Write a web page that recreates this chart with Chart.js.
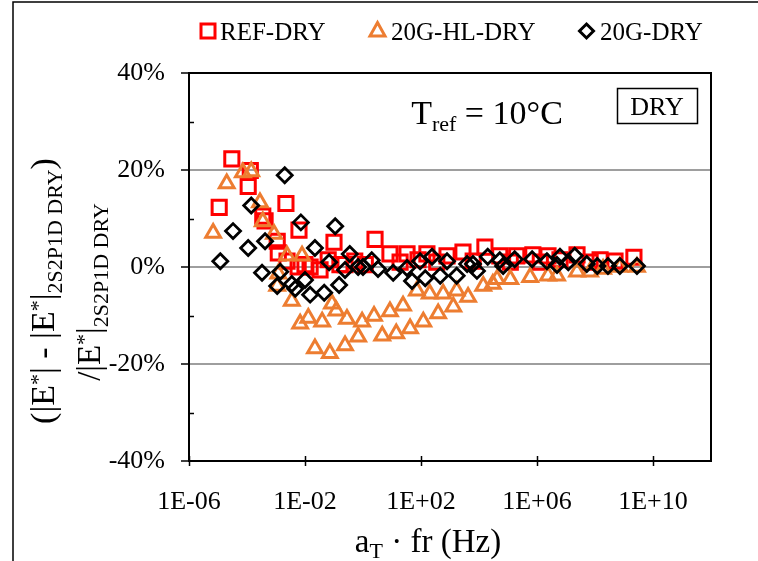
<!DOCTYPE html>
<html>
<head>
<meta charset="utf-8">
<script src="https://cdn.jsdelivr.net/npm/chart.js@4.4.0/dist/chart.umd.min.js"></script>
<style>
  html, body { margin: 0; padding: 0; background: #fff; }
  #wrap { width: 758px; height: 561px; position: relative; }
</style>
</head>
<body>
<div id="wrap"><canvas id="grafico" width="758" height="561"></canvas></div>
<script>
// aT·fr (Hz) y desviacion (%) respecto al modelo 2S2P1D
const refDryFreq = [1.1e-5, 3.0e-5, 1.1e-4, 1.3e-4, 3.5e-4, 4.2e-4, 1.1e-3, 1.2e-3, 2.2e-3, 2.4e-3, 5.8e-3, 6.2e-3, 1.0e-2, 1.5e-2, 3.3e-2, 6.3e-2, 0.10, 0.16, 0.24, 0.52, 1.2, 2.6, 8.5, 19, 33, 79, 160, 350, 790, 2800, 6300, 1.6e4, 5.2e4, 1.2e5, 2.0e5, 7.2e5, 1.3e6, 2.4e6, 6.2e6, 2.4e7, 6.8e7, 1.5e8, 4.9e8, 2.2e9];
const refDryDev = [12.3, 22.3, 16.6, 19.9, 10.5, 9.5, 5.3, 2.9, 13.1, 1.2, 0.0, 7.6, 0.5, 0.0, -0.6, 1.5, 5.1, 0.5, 0.5, 1.2, 0.5, 5.7, 2.7, 1.0, 2.7, 1.5, 2.7, 1.0, 2.3, 3.1, 1.2, 4.1, 2.3, 1.0, 2.3, 2.5, 1.0, 2.3, 1.5, 2.5, 1.0, 1.5, 1.2, 2.0];

const hlDryFreq = [6.8e-6, 2.0e-5, 7.2e-5, 1.4e-4, 2.8e-4, 3.5e-4, 8.5e-4, 1.1e-3, 1.2e-3, 2.4e-3, 3.5e-3, 6.8e-3, 7.9e-3, 1.3e-2, 2.2e-2, 3.9e-2, 7.2e-2, 8.5e-2, 0.12, 0.24, 0.28, 0.68, 0.93, 2.4, 4.6, 8.5, 14, 24, 42, 72, 120, 200, 390, 580, 1300, 1700, 4200, 1.4e4, 3.0e4, 4.2e4, 1.2e5, 5.8e5, 2.4e6, 4.9e6, 2.4e7, 6.8e7, 1.9e8, 7.2e8, 2.8e9];
const hlDryDev = [7.0, 17.2, 19.5, 19.7, 13.3, 9.4, 6.8, -3.9, -1.4, 2.3, -7.0, -11.7, 2.3, -10.5, -16.8, -11.3, -17.8, -7.6, -9.0, -16.2, -10.7, -14.4, -11.3, -10.1, -14.2, -9.2, -13.7, -8.0, -12.7, -4.9, -11.3, -5.5, -9.6, -5.5, -8.2, -4.9, -6.2, -3.9, -3.5, -2.5, -2.5, -2.1, -1.8, -1.8, -1.0, -1.0, -0.4, 0.0, 0.0];

const gDryFreq = [1.2e-5, 3.3e-5, 1.1e-4, 1.4e-4, 3.3e-4, 4.2e-4, 1.1e-3, 1.4e-3, 2.0e-3, 3.5e-3, 4.6e-3, 7.2e-3, 1.0e-2, 1.5e-2, 2.2e-2, 4.6e-2, 6.8e-2, 0.11, 0.15, 0.24, 0.35, 0.68, 1.0, 2.0, 3.3, 11, 33, 49, 93, 140, 240, 460, 790, 1700, 3900, 6200, 8500, 2.0e4, 5.2e4, 6.8e4, 1.7e5, 6.8e5, 2.2e6, 4.9e6, 6.2e6, 1.2e7, 2.0e7, 5.2e7, 1.2e8, 2.8e8, 7.2e8, 2.8e9];
const gDryDev = [1.2, 7.4, 3.9, 12.7, -1.2, 5.3, -3.9, -1.0, 18.9, -3.5, -4.5, 9.2, -2.7, -5.7, 3.9, -5.3, 1.0, 8.4, -3.7, -0.6, 2.7, 0.0, 0.0, 1.4, -0.4, -1.2, -0.2, -2.9, 1.2, -2.3, 2.1, -1.8, 1.2, -1.8, 0.6, 0.6, -0.8, 2.1, 1.4, 0.2, 1.6, 1.6, 1.2, 0.4, 2.1, 1.0, 2.3, 0.6, 0.2, 0.2, 0.2, 0.2];

const serieNames = ["REF-DRY", "20G-HL-DRY", "20G-DRY"];
const xTickValues = [1e-6, 1e-2, 1e2, 1e6, 1e10];
const xTickLabels = ["1E-06", "1E-02", "1E+02", "1E+06", "1E+10"];
const yTickValues = [-40, -20, 0, 20, 40];
const yTickLabels = ["-40%", "-20%", "0%", "20%", "40%"];
const yMinorValues = [-30, -10, 10, 30];

const serif = "'Liberation Serif', 'Times New Roman', serif";
const rojo = "#FF0000";
const naranja = "#ED7D31";
const negro = "#000000";

function puntos(xs, ys) {
  return xs.map(function (x, i) { return { x: x, y: ys[i] }; });
}

// texto con trozos de distinto tamaño (subindices / superindices)
function textoCompuesto(ctx, cx, baseY, trozos) {
  let total = 0;
  trozos.forEach(function (t) {
    ctx.font = t.size + "px " + serif;
    t.w = ctx.measureText(t.text).width;
    total += t.w;
  });
  let x = cx - total / 2;
  ctx.textAlign = "left";
  ctx.textBaseline = "alphabetic";
  trozos.forEach(function (t) {
    ctx.font = t.size + "px " + serif;
    ctx.fillText(t.text, x, baseY + (t.dy || 0));
    x += t.w;
  });
}

function marcador(ctx, tipo, x, y, color, ancho) {
  ctx.save();
  ctx.strokeStyle = color;
  ctx.lineWidth = ancho;
  ctx.beginPath();
  if (tipo === "rect") {
    ctx.rect(x - 7, y - 7, 14, 14);
  } else if (tipo === "triangle") {
    ctx.moveTo(x, y - 8.5);
    ctx.lineTo(x + 7.5, y + 5);
    ctx.lineTo(x - 7.5, y + 5);
    ctx.closePath();
  } else {
    ctx.moveTo(x, y - 7);
    ctx.lineTo(x + 7, y);
    ctx.lineTo(x, y + 7);
    ctx.lineTo(x - 7, y);
    ctx.closePath();
  }
  ctx.stroke();
  ctx.restore();
}

const decoracion = {
  id: "decoracion",
  afterDraw: function (chart) {
    const ctx = chart.ctx;
    const area = chart.chartArea;
    const xs = chart.scales.x;
    const ys = chart.scales.y;
    ctx.save();
    ctx.strokeStyle = negro;
    ctx.fillStyle = negro;

    // marco exterior
    ctx.lineWidth = 1.5;
    ctx.beginPath();
    ctx.moveTo(13, 561);
    ctx.lineTo(13, 2);
    ctx.lineTo(758, 2);
    ctx.stroke();

    // borde superior y derecho del area de trazado
    ctx.lineWidth = 2;
    ctx.beginPath();
    ctx.moveTo(area.left, area.top);
    ctx.lineTo(area.right, area.top);
    ctx.lineTo(area.right, area.bottom);
    ctx.stroke();

    // marcas hacia dentro
    ctx.lineWidth = 1.5;
    ctx.beginPath();
    xTickValues.forEach(function (v) {
      const px = Math.round(xs.getPixelForValue(v)) + 0.5;
      ctx.moveTo(px, area.bottom);
      ctx.lineTo(px, area.bottom - 5);
    });
    yMinorValues.forEach(function (v) {
      const py = Math.round(ys.getPixelForValue(v)) + 0.5;
      ctx.moveTo(area.left, py);
      ctx.lineTo(area.left + 5, py);
    });
    ctx.stroke();

    // leyenda
    const tiposLeyenda = ["rect", "triangle", "diamond"];
    const coloresLeyenda = [rojo, naranja, negro];
    const xMarca = [208, 377.5, 586.5];
    const xTexto = [220, 391, 600];
    serieNames.forEach(function (n, i) {
      marcador(ctx, tiposLeyenda[i], xMarca[i], 31, coloresLeyenda[i], 3);
      ctx.fillStyle = negro;
      ctx.font = "25px " + serif;
      ctx.textAlign = "left";
      ctx.textBaseline = "alphabetic";
      ctx.fillText(n, xTexto[i], 40);
    });

    // temperatura de referencia
    textoCompuesto(ctx, 487, 124, [
      { text: "T", size: 34 },
      { text: "ref", size: 22, dy: 7 },
      { text: " = 10\u00B0C", size: 34 }
    ]);

    // recuadro DRY
    ctx.lineWidth = 1.5;
    ctx.strokeRect(617.5, 88.5, 80, 35);
    ctx.font = "26px " + serif;
    ctx.textAlign = "center";
    ctx.fillText("DRY", 657, 115);

    // titulo eje x
    textoCompuesto(ctx, 428, 552, [
      { text: "a", size: 33 },
      { text: "T", size: 22, dy: 6 },
      { text: " \u00B7 fr (Hz)", size: 33 }
    ]);

    // titulo eje y (dos lineas giradas)
    ctx.save();
    ctx.translate(54, 291);
    ctx.rotate(-Math.PI / 2);
    textoCompuesto(ctx, 0, 0, [
      { text: "(|E", size: 34 },
      { text: "*", size: 22, dy: -9 },
      { text: "| - |E", size: 34 },
      { text: "*", size: 22, dy: -9 },
      { text: "|", size: 34 },
      { text: "2S2P1D DRY", size: 22, dy: 8 },
      { text: ")", size: 34 }
    ]);
    ctx.restore();

    ctx.save();
    ctx.translate(100, 292);
    ctx.rotate(-Math.PI / 2);
    textoCompuesto(ctx, 0, 0, [
      { text: "/|E", size: 33 },
      { text: "*", size: 22, dy: -9 },
      { text: "|", size: 33 },
      { text: "2S2P1D DRY", size: 22, dy: 8 }
    ]);
    ctx.restore();

    ctx.restore();
  }
};

const ctx = document.getElementById("grafico").getContext("2d");
const grafico = new Chart(ctx, {
  type: "scatter",
  data: {
    datasets: [
      {
        label: serieNames[0],
        data: puntos(refDryFreq, refDryDev),
        pointStyle: "rect",
        pointRadius: 10,
        borderColor: rojo,
        backgroundColor: "rgba(0,0,0,0)",
        borderWidth: 3,
        order: 3
      },
      {
        label: serieNames[1],
        data: puntos(hlDryFreq, hlDryDev),
        pointStyle: "triangle",
        pointRadius: 8.5,
        borderColor: naranja,
        backgroundColor: "rgba(0,0,0,0)",
        borderWidth: 3,
        order: 2
      },
      {
        label: serieNames[2],
        data: puntos(gDryFreq, gDryDev),
        pointStyle: "rectRot",
        pointRadius: 7.5,
        borderColor: negro,
        backgroundColor: "rgba(0,0,0,0)",
        borderWidth: 2.8,
        order: 1
      }
    ]
  },
  options: {
    responsive: false,
    animation: false,
    layout: { padding: { top: 73, right: 47, left: 0, bottom: 0 } },
    plugins: {
      legend: { display: false },
      tooltip: { enabled: false }
    },
    scales: {
      x: {
        type: "logarithmic",
        min: 1e-6,
        max: 1e12,
        afterBuildTicks: function (s) {
          s.ticks = xTickValues.map(function (v) { return { value: v }; });
        },
        afterFit: function (s) { s.height = 100; },
        ticks: {
          autoSkip: false,
          maxRotation: 0,
          padding: 21,
          color: negro,
          font: { family: serif, size: 26 },
          callback: function (v, i) { return xTickLabels[i]; }
        },
        grid: {
          drawOnChartArea: false,
          drawTicks: true,
          tickLength: 5,
          tickColor: negro,
          tickWidth: 1.5
        },
        border: { color: negro, width: 2 }
      },
      y: {
        min: -40,
        max: 40,
        afterBuildTicks: function (s) {
          s.ticks = yTickValues.map(function (v) { return { value: v }; });
        },
        afterFit: function (s) { s.width = 189; },
        ticks: {
          padding: 16,
          color: negro,
          font: { family: serif, size: 26 },
          callback: function (v, i) { return yTickLabels[i]; }
        },
        grid: {
          color: "#9E9E9E",
          lineWidth: 2,
          tickLength: 8,
          tickColor: negro,
          tickWidth: 1.5
        },
        border: { color: negro, width: 2 }
      }
    }
  },
  plugins: [decoracion]
});
</script>
</body>
</html>
